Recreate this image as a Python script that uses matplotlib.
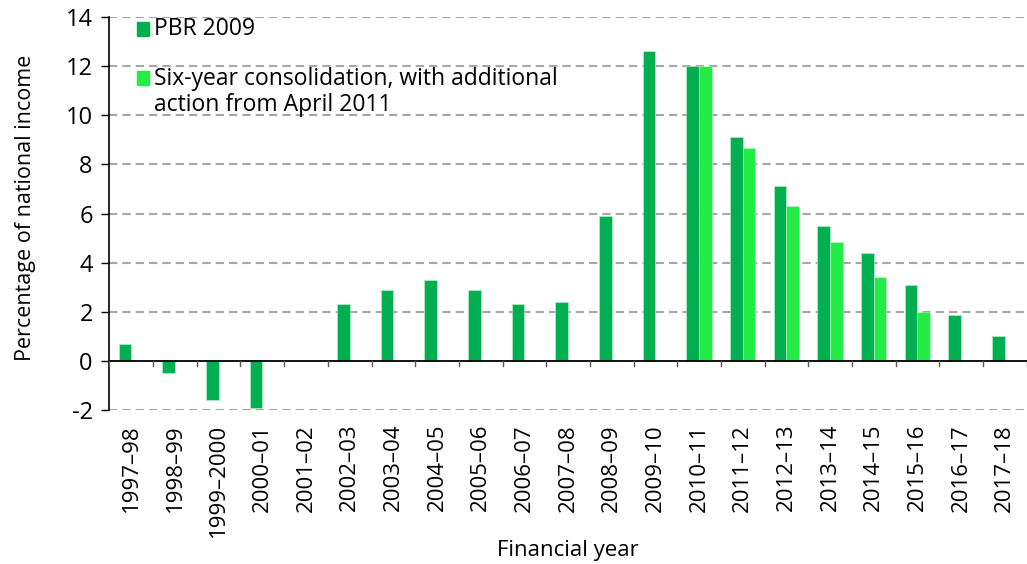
import matplotlib
matplotlib.use("Agg")
import matplotlib.pyplot as plt
import numpy as np
from matplotlib.patches import Rectangle

plt.rcParams['font.family'] = ['Open Sans', 'DejaVu Sans']

years = ["1997\u201398", "1998\u201399", "1999\u20132000", "2000\u201301", "2001\u201302",
         "2002\u201303", "2003\u201304", "2004\u201305", "2005\u201306", "2006\u201307",
         "2007\u201308", "2008\u201309", "2009\u201310", "2010\u201311", "2011\u201312",
         "2012\u201313", "2013\u201314", "2014\u201315", "2015\u201316", "2016\u201317",
         "2017\u201318"]
pbr2009 = [0.7, -0.5, -1.6, -1.9, 0.0, 2.3, 2.9, 3.3, 2.9, 2.3, 2.4, 5.9, 12.6,
           12.0, 9.1, 7.1, 5.5, 4.4, 3.1, 1.85, 1.0]
six_year = [np.nan] * 13 + [12.0, 8.65, 6.3, 4.85, 3.4, 2.0, np.nan, np.nan]
series_labels = ["PBR 2009", "Six-year consolidation, with additional\naction from April 2011"]
colors = ["#00AF50", "#22EC45"]

fig = plt.figure(figsize=(10.27, 5.64), dpi=100)
ax = fig.add_axes([0.1066, 0.273, 0.893, 0.6969])

x = np.arange(len(years))
w = 0.29
ax.bar(x - w / 2, pbr2009, width=w, color=colors[0], edgecolor='#c8f0d4', linewidth=0.4, zorder=3)
ax.bar(x + w / 2, six_year, width=w, color=colors[1], edgecolor='#c8f0d4', linewidth=0.4, zorder=3)

ax.set_xlim(-0.5, len(years) - 0.5)
ax.set_ylim(-2, 14)
ax.set_yticks(np.arange(-2, 15, 2))
ax.set_yticklabels([str(v) for v in range(-2, 15, 2)], fontsize=17)
for v in range(-2, 15, 2):
    if v != 0:
        ax.axhline(v, color='#A6A6A6', lw=1.5, dashes=(4, 2.4), zorder=1)
ax.axhline(0, color='black', lw=1.3, zorder=4)

ax.set_xticks(x)
ax.set_xticklabels(years, rotation=90, fontsize=16)
ax.tick_params(axis='x', length=0, pad=10)
ax.tick_params(axis='y', length=6, width=1, pad=6)

for s in ['top', 'right', 'bottom']:
    ax.spines[s].set_visible(False)
ax.spines['left'].set_linewidth(1.2)

for xv in np.arange(-0.5, len(years) - 0.4, 1):
    ax.plot([xv, xv], [0, -0.2], color='#555555', lw=1, zorder=4, clip_on=False)

ax.set_ylabel("Percentage of national income", fontsize=15.5)
ax.set_xlabel("Financial year", fontsize=16)
ax.yaxis.set_label_coords(-0.080, 0.515)
ax.xaxis.set_label_coords(0.5, -0.330)

# legend (manual, no frame)
leg_x = 0.030
leg_y = [0.970, 0.844]
for c, lab, ly in zip(colors, series_labels, leg_y):
    ax.add_patch(Rectangle((leg_x, ly - 0.018), 0.013, 0.036, transform=ax.transAxes,
                           color=c, clip_on=False, zorder=5))
    ax.text(leg_x + 0.019, ly + 0.030, lab, transform=ax.transAxes, fontsize=16.5,
            va='top', ha='left', linespacing=1.15, zorder=5)

fig.savefig("out.png", dpi=100)
